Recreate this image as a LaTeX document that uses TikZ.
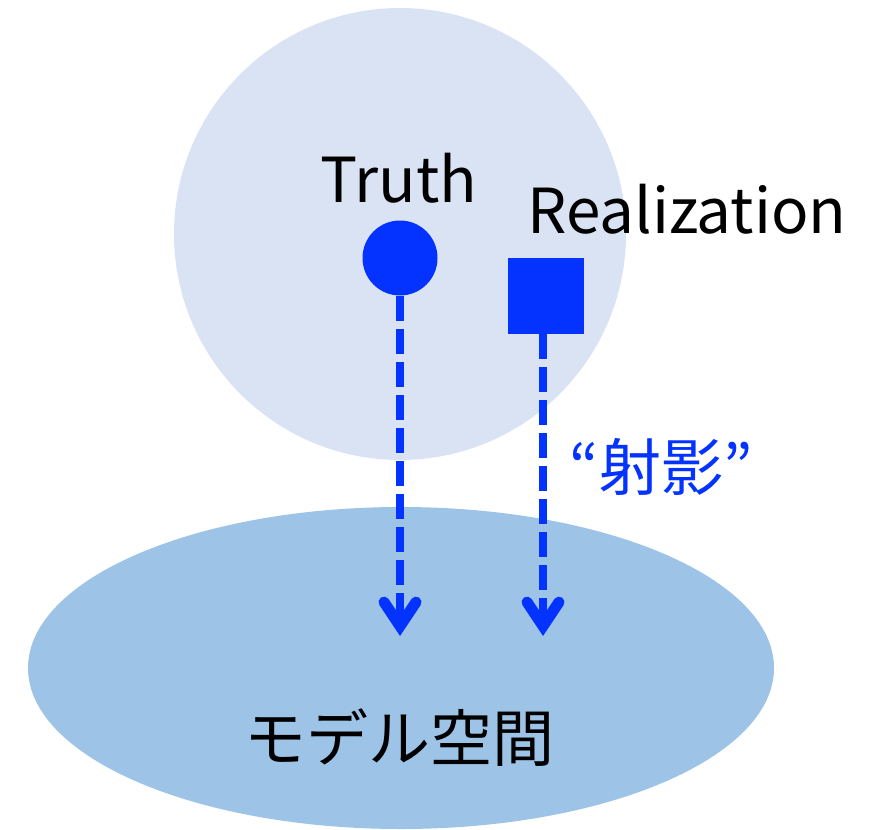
\documentclass[tikz,border=0pt]{standalone}
\usepackage{fontspec}
\setmainfont{Noto Sans CJK JP}
\usetikzlibrary{arrows.meta,shapes.geometric}
\definecolor{lightbg}{HTML}{DAE3F3}
\definecolor{modelbg}{HTML}{9DC3E6}
\definecolor{vivid}{HTML}{0433FF}
\tikzset{
  lbl/.style={font=\fontsize{62}{70}\selectfont, inner sep=0pt},
  proj/.style={vivid, line width=8.5pt, dash pattern=on 25pt off 8pt,
    -{Straight Barb[length=24pt,width=32pt,line width=11pt,line cap=round]}},
}
\begin{document}
\begin{tikzpicture}[x=1pt,y=-1pt]
\useasboundingbox (0,0) rectangle (874,829);
% truth space
\node[circle, fill=lightbg, minimum size=452pt, inner sep=0pt] (space) at (400,234) {};
% model space
\node[ellipse, fill=modelbg, minimum width=746pt, minimum height=322pt, inner sep=0pt] (model) at (401,668) {};
\node[lbl] (modellbl) at (399,738) {モデル空間};
% truth and realization
\node[circle, fill=vivid, minimum size=75pt, inner sep=0pt] (dot) at (400,258) {};
\node[rectangle, fill=vivid, minimum size=76pt, inner sep=0pt] (sq) at (546,296) {};
\node[lbl, anchor=base] (truthlbl) at (399,202) {Truth};
\node[lbl, anchor=base] (reallbl) at (687,233) {Realization};
\node[lbl, text=vivid] (projlbl) at (661,467) {“射影”};
% projections
\coordinate (tipA) at (400,636);
\coordinate (tipB) at (543,636);
\draw[proj] (dot.south) -- (tipA);
\draw[proj] ([xshift=-3pt]sq.south) -- (tipB);
\end{tikzpicture}
\end{document}
